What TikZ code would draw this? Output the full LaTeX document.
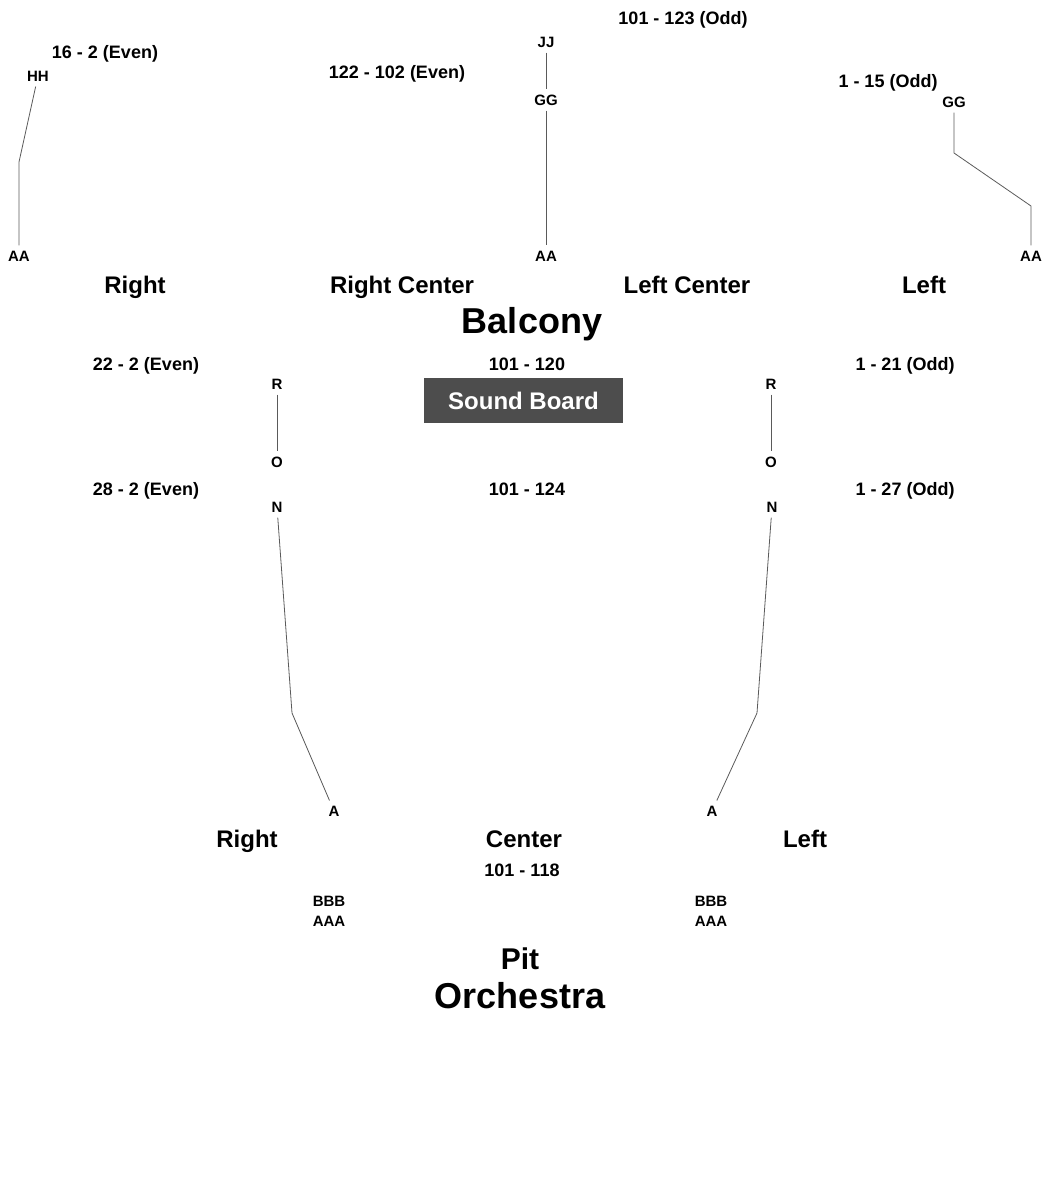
\documentclass[tikz,border=0pt]{standalone}
\usepackage{fontspec}
\setmainfont{Liberation Sans}
\usepackage{tikz}
\usetikzlibrary{positioning}
\definecolor{boardgray}{HTML}{4D4D4D}
\definecolor{aislegray}{HTML}{5A5A5A}
\tikzset {
    row/.style = {
        inner sep=5pt,
        text height=10.7pt,
        text depth=0pt,
        font = {\fontsize{15}{16}\selectfont\bfseries} % row letters
    },
    seats/.style = {
        inner sep=2pt,
        text height=12.9pt,
        text depth=0pt,
        font = {\fontsize{18}{20}\selectfont\bfseries} % seat ranges
    },
    section/.style = {
        inner sep=2pt,
        text height=17.2pt,
        text depth=0pt,
        font = {\fontsize{24}{26}\selectfont\bfseries}
    },
    level/.style = {
        inner sep=2pt,
        text height=25.8pt,
        text depth=0pt,
        font = {\fontsize{36}{38}\selectfont\bfseries}
    },
    board/.style = {
        fill=boardgray,
        text=white,
        minimum width=199pt,
        minimum height=45pt,
        inner sep=0pt,
        text height=17.2pt,
        text depth=0pt,
        font = {\fontsize{24}{26}\selectfont\bfseries}
    },
    aisle/.style = {
        draw=aislegray,
        line width=0.8pt
    }
}

\begin{document}
\begin{tikzpicture}[x=1pt, y=-1pt]
        \useasboundingbox (0, 0) rectangle (1050, 1188);

        % Balcony : seat ranges and row letters, right to left
        \node [seats] at (105, 52)      (rangeBR)   {16 - 2 (Even)};
        \node [row]   at (38, 76)       (HHbr)      {HH};
        \node [row]   at (19, 256)      (AAbr)      {AA};
        \node [seats] at (397, 72)      (rangeBRC)  {122 - 102 (Even)};
        \node [seats] at (683, 18)      (rangeBLC)  {101 - 123 (Odd)};
        \node [row]   at (546, 42)      (JJbc)      {JJ};
        \node [row]   at (546, 100)     (GGbc)      {GG};
        \node [row]   at (546, 256)     (AAbc)      {AA};
        \node [seats] at (888, 81)      (rangeBL)   {1 - 15 (Odd)};
        \node [row]   at (954, 102)     (GGbl)      {GG};
        \node [row]   at (1031, 256)    (AAbl)      {AA};

        % Balcony : sections
        \node [section] at (135, 285)   (secBR)     {Right};
        \node [section] at (402, 285)   (secBRC)    {Right Center};
        \node [section] at (687, 285)   (secBLC)    {Left Center};
        \node [section] at (924, 285)   (secBL)     {Left};
        \node [level]   at (532, 321)   (balcony)   {Balcony};

        % Orchestra : rear rows R to O
        \node [seats] at (146, 364)     (rangeOR1)  {22 - 2 (Even)};
        \node [seats] at (527, 364)     (rangeOC1)  {101 - 120};
        \node [seats] at (905, 364)     (rangeOL1)  {1 - 21 (Odd)};
        \node [board] at (523.5, 400.5) (sound)     {Sound Board};
        \node [row]   at (277, 384)     (Ror)       {R};
        \node [row]   at (277, 462)     (Oor)       {O};
        \node [row]   at (771, 384)     (Rol)       {R};
        \node [row]   at (771, 462)     (Ool)       {O};

        % Orchestra : rows N to A
        \node [seats] at (146, 489)     (rangeOR2)  {28 - 2 (Even)};
        \node [seats] at (527, 489)     (rangeOC2)  {101 - 124};
        \node [seats] at (905, 489)     (rangeOL2)  {1 - 27 (Odd)};
        \node [row]   at (277, 507)     (Nor)       {N};
        \node [row]   at (334, 811)     (Aor)       {A};
        \node [row]   at (772, 507)     (Nol)       {N};
        \node [row]   at (712, 811)     (Aol)       {A};

        % Orchestra : sections and pit
        \node [section] at (247, 839)   (secOR)     {Right};
        \node [section] at (524, 839)   (secOC)     {Center};
        \node [section] at (805, 839)   (secOL)     {Left};
        \node [seats] at (522, 870)     (rangePit)  {101 - 118};
        \node [row]   at (329, 901)     (BBBr)      {BBB};
        \node [row]   at (329, 921)     (AAAr)      {AAA};
        \node [row]   at (711, 901)     (BBBl)      {BBB};
        \node [row]   at (711, 921)     (AAAl)      {AAA};
        \node [section, text height=21.5pt, font={\fontsize{30}{32}\selectfont\bfseries}] at (520, 959) (pit) {Pit};
        \node [level]   at (520, 996)   (orchestra) {Orchestra};

        % Bends of the aisle lines
        \coordinate (bendBR)  at (19, 162);
        \coordinate (bendBL1) at (954, 153);
        \coordinate (bendBL2) at (1031, 206);
        \coordinate (bendOR)  at (292, 713);
        \coordinate (bendOL)  at (757, 713);

        \path [aisle] (HHbr)  --  (bendBR) -- (AAbr);
        \path [aisle] (JJbc)  --  (GGbc);
        \path [aisle] (GGbc)  --  (AAbc);
        \path [aisle] (GGbl)  --  (bendBL1) -- (bendBL2) -- (AAbl);
        \path [aisle] (Ror)   --  (Oor);
        \path [aisle] (Rol)   --  (Ool);
        \path [aisle] (Nor)   --  (bendOR) -- (Aor);
        \path [aisle] (Nol)   --  (bendOL) -- (Aol);
    \end{tikzpicture}
\end{document}
